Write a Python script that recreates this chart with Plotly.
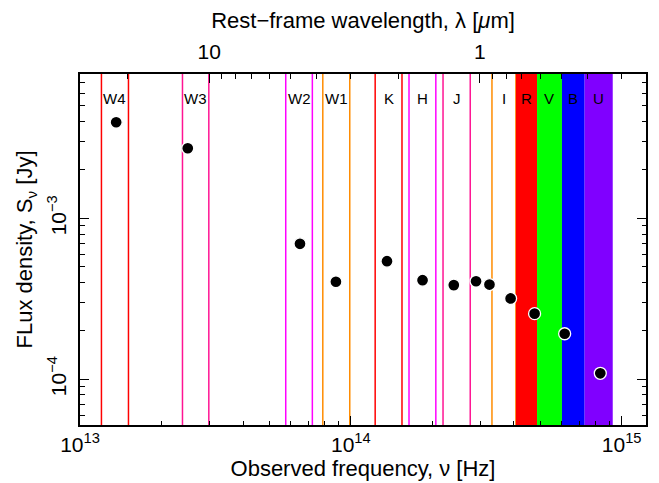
import numpy as np
import plotly.graph_objects as go

C_UM = 2.998e14  # speed of light in micron * Hz

# Observed SED points
nu_obs = [1.36e13, 2.50e13, 6.49e13, 8.81e13, 1.36e14, 1.84e14, 2.40e14,
          2.90e14, 3.25e14, 3.89e14, 4.77e14, 6.16e14, 8.34e14]
flux_jy = [3.96e-3, 2.73e-3, 6.95e-4, 4.04e-4, 5.42e-4, 4.13e-4, 3.85e-4,
           4.07e-4, 3.88e-4, 3.18e-4, 2.56e-4, 1.92e-4, 1.09e-4]

# Filter bands
band_names = ["W4", "W3", "W2", "W1", "K", "H", "J", "I", "R", "V", "B", "U"]
band_lo = [1.20e13, 2.39e13, 5.75e13, 7.88e13, 1.23e14, 1.64e14, 2.19e14,
           3.32e14, 4.07e14, 4.87e14, 6.02e14, 7.30e14]
band_hi = [1.51e13, 2.99e13, 7.21e13, 9.91e13, 1.545e14, 2.06e14, 2.76e14,
           4.07e14, 4.87e14, 6.02e14, 7.30e14, 9.27e14]
band_filled = [False, False, False, False, False, False, False, False,
               True, True, True, True]
band_colors = ["#ff0000", "#ff1493", "#ff00ff", "#ff8c00", "#ff0000", "#ff00ff",
               "#ff1493", "#ff8c00", "#ff0000", "#00ff00", "#0000ff", "#8000ff"]

# Axis ranges and ticks
x_range = [1e13, 1.23e15]
y_range = [5.2e-5, 7.9e-3]
x_major = [1e13, 1e14, 1e15]
x_major_text = ["10<sup>13</sup>", "10<sup>14</sup>", "10<sup>15</sup>"]
y_major = [1e-4, 1e-3]
y_major_text = ["10<sup>\u22124</sup>", "10<sup>\u22123</sup>"]
lam_major = [10, 1]
lam_major_text = ["10", "1"]

x_minor = [m * 10.0 ** e for e in (13, 14) for m in range(2, 10)]
y_minor = [m * 10.0 ** e for e in (-5, -4, -3) for m in range(2, 10)]
y_minor = [v for v in y_minor if y_range[0] <= v <= y_range[1]]
lam_minor = [m * 10.0 ** e for e in (-1, 0, 1) for m in range(2, 10)]
lam_lo, lam_hi = C_UM / x_range[1], C_UM / x_range[0]
lam_minor = [v for v in lam_minor if lam_lo <= v <= lam_hi]

FONT = "Liberation Sans, Arial, sans-serif"

xr = [np.log10(x_range[0]), np.log10(x_range[1])]
yr = [np.log10(y_range[0]), np.log10(y_range[1])]
lr = [np.log10(lam_hi), np.log10(lam_lo)]

fig = go.Figure()

# band edge lines
for name, lo, hi, filled, col in zip(band_names, band_lo, band_hi, band_filled, band_colors):
    if not filled:
        fig.add_trace(go.Scatter(
            x=[lo, lo, None, hi, hi],
            y=[y_range[0], y_range[1], None, y_range[0], y_range[1]],
            mode="lines", line=dict(color=col, width=1.5),
            hoverinfo="skip", showlegend=False))

# filled bands
for name, lo, hi, filled, col in zip(band_names, band_lo, band_hi, band_filled, band_colors):
    if filled:
        fig.add_trace(go.Scatter(
            x=[lo, hi, hi, lo, lo],
            y=[y_range[0], y_range[0], y_range[1], y_range[1], y_range[0]],
            mode="lines", fill="toself", fillcolor=col,
            line=dict(color=col, width=0),
            hoverinfo="skip", showlegend=False))

# data points
fig.add_trace(go.Scatter(
    x=nu_obs, y=flux_jy, mode="markers",
    marker=dict(color="black", size=12, line=dict(color="white", width=1.3)),
    showlegend=False))

# invisible traces carrying the secondary (tick-only) axes
fig.add_trace(go.Scatter(
    x=[C_UM / v for v in nu_obs], y=flux_jy, xaxis="x2", yaxis="y2", mode="markers",
    marker=dict(opacity=0), hoverinfo="skip", showlegend=False))
fig.add_trace(go.Scatter(
    x=nu_obs, y=flux_jy, xaxis="x3", yaxis="y2", mode="markers",
    marker=dict(opacity=0), hoverinfo="skip", showlegend=False))
fig.add_trace(go.Scatter(
    x=[C_UM / v for v in nu_obs], y=flux_jy, xaxis="x4", yaxis="y2", mode="markers",
    marker=dict(opacity=0), hoverinfo="skip", showlegend=False))

# band labels
for name, lo, hi in zip(band_names, band_lo, band_hi):
    fig.add_annotation(
        x=np.log10(np.sqrt(lo * hi)), y=0.931, xref="x", yref="paper",
        text=name, showarrow=False, font=dict(family=FONT, size=15, color="black"),
        xanchor="center", yanchor="middle")

common = dict(tickcolor="black", tickwidth=1.2, showgrid=False, zeroline=False,
              linecolor="black", linewidth=1.5, automargin=False)

# the page body adds an 8 px offset, so the figure is sized to fit the window
fig.update_layout(
    width=651, height=475,
    margin=dict(l=72, r=13, t=66, b=58),
    paper_bgcolor="white", plot_bgcolor="white",
    font=dict(family=FONT, size=20, color="black"),
    xaxis=dict(
        type="log", range=xr, anchor="y",
        tickmode="array", tickvals=x_major, ticktext=x_major_text,
        ticks="inside", ticklen=9, showline=True, mirror=False,
        title=dict(text="Observed frequency, \u03bd [Hz]", standoff=6,
                   font=dict(size=22)),
        tickfont=dict(size=21), **common),
    xaxis3=dict(
        type="log", range=xr, overlaying="x", anchor="y", side="bottom",
        tickmode="array", tickvals=x_minor, showticklabels=False,
        ticks="inside", ticklen=4.5, showline=False, **common),
    xaxis2=dict(
        type="log", overlaying="x", side="top", anchor="y", range=lr,
        tickmode="array", tickvals=lam_major, ticktext=lam_major_text,
        ticks="inside", ticklen=9, showline=True, ticklabelstandoff=5,
        title=dict(text="Rest\u2212frame wavelength, \u03bb [<i>\u03bc</i>m]", standoff=10,
                   font=dict(size=22)),
        tickfont=dict(size=21), **common),
    xaxis4=dict(
        type="log", overlaying="x", side="top", anchor="y", range=lr,
        tickmode="array", tickvals=lam_minor, showticklabels=False,
        ticks="inside", ticklen=4.5, showline=False, **common),
    yaxis=dict(
        type="log", range=yr,
        tickmode="array", tickvals=y_major, ticktext=y_major_text, tickangle=-90,
        ticks="inside", ticklen=9, showline=True, mirror="ticks", ticklabelstandoff=4,
        title=dict(text="FLux density, S<sub>\u03bd</sub> [Jy]", standoff=5,
                   font=dict(size=22)),
        tickfont=dict(size=21), **common),
    yaxis2=dict(
        type="log", range=yr, overlaying="y", side="left",
        tickmode="array", tickvals=y_minor, showticklabels=False,
        ticks="inside", ticklen=4.5, showline=False, mirror="ticks", **common),
)

fig.write_html("out.html")
